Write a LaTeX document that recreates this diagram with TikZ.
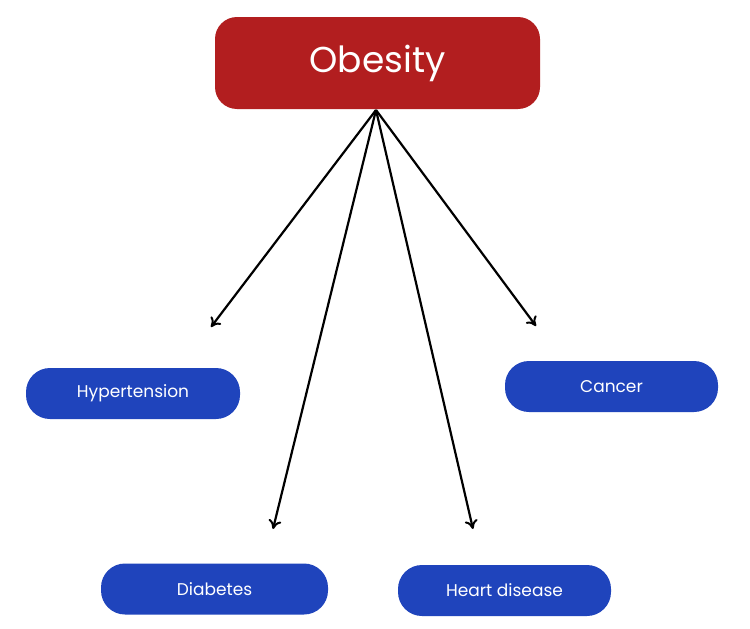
\documentclass[tikz,border=0pt]{standalone}
\usepackage{fontspec}
\setmainfont{Poppins}
\usetikzlibrary{arrows.meta}
\definecolor{obred}{HTML}{B21E1F}
\definecolor{pillblue}{HTML}{1F44BC}
\begin{document}
\begin{tikzpicture}[x=1pt,y=-1pt,
  pill/.style={fill=pillblue,rounded corners=24pt,text=white,font=\fontsize{17}{20}\selectfont,minimum height=51pt,inner sep=0pt},
  arr/.style={line width=2.2pt,-{To[length=9pt,width=13pt,line width=2pt]}}]
\useasboundingbox[fill=white] (0,0) rectangle (750,629);
\node[fill=obred,rounded corners=22pt,text=white,font=\fontsize{36}{42}\selectfont,minimum width=325pt,minimum height=92pt] (ob) at (377.5,63) {Obesity};
\node[pill,minimum width=214pt] (hy) at (133,393.5) {Hypertension};
\node[pill,minimum width=213pt] (ca) at (611.5,386.5) {Cancer};
\node[pill,minimum width=227pt] (di) at (214.5,589) {Diabetes};
\node[pill,minimum width=213pt] (hd) at (504.5,590.5) {Heart disease};
\coordinate (s) at (376,110);
\coordinate (e1) at (211,327);
\coordinate (e2) at (273,529);
\coordinate (e3) at (473,529);
\coordinate (e4) at (536,326);
\foreach \e in {e1,e2,e3,e4} \draw[arr] (s) -- (\e);
\end{tikzpicture}
\end{document}
